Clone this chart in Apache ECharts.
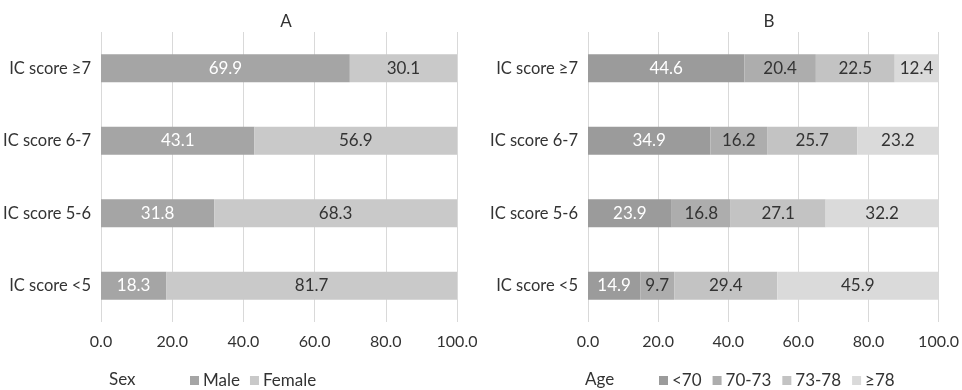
<!DOCTYPE html>
<html>
<head>
<meta charset="utf-8">
<script src="https://cdn.jsdelivr.net/npm/echarts@6/dist/echarts.min.js"></script>
<style>
  html, body { margin: 0; padding: 0; background: #fff; }
  #chart { width: 962px; height: 390px; }
</style>
</head>
<body>
<div id="chart"></div>
<script>
const categories = ['IC score <5', 'IC score 5-6', 'IC score 6-7', 'IC score ≥7']
const xTicks = [0, 20, 40, 60, 80, 100]

const male = [18.3, 31.8, 43.1, 69.9]
const female = [81.7, 68.3, 56.9, 30.1]

const ageUnder70 = [14.9, 23.9, 34.9, 44.6]
const age70to73 = [9.7, 16.8, 16.2, 20.4]
const age73to78 = [29.4, 27.1, 25.7, 22.5]
const age78plus = [45.9, 32.2, 23.2, 12.4]

const font = 'Lato, "Open Sans", sans-serif'
const textColor = '#333333'

const chart = echarts.init(document.getElementById('chart'))

const xAxisBase = {
  type: 'value',
  min: xTicks[0],
  max: xTicks[xTicks.length - 1],
  interval: xTicks[1] - xTicks[0],
  axisLine: { show: false },
  axisTick: { show: false },
  splitLine: { lineStyle: { color: '#d9d9d9' } },
  axisLabel: {
    color: textColor,
    fontFamily: font,
    fontSize: 16,
    margin: 12,
    formatter: (v) => v.toFixed(1)
  }
}

const yAxisBase = {
  type: 'category',
  data: categories,
  axisLine: { show: false },
  axisTick: { show: false },
  axisLabel: { color: textColor, fontFamily: font, fontSize: 16.5, margin: 10 }
}

const makeSeries = (name, data, idx, color, labelColor) => ({
  name,
  type: 'bar',
  stack: 'p' + idx,
  xAxisIndex: idx,
  yAxisIndex: idx,
  data,
  barWidth: 28,
  itemStyle: { color },
  label: {
    show: true,
    color: labelColor,
    fontFamily: font,
    fontSize: 17,
    formatter: (p) => p.value.toFixed(1)
  }
})

const titleStyle = { color: textColor, fontFamily: font, fontSize: 17, fontWeight: 'normal' }

const option = {
  animation: false,
  title: [
    { text: 'A', left: 281, top: 8, textAlign: 'center', textStyle: titleStyle },
    { text: 'B', left: 764, top: 8, textAlign: 'center', textStyle: titleStyle },
    { text: 'Sex', left: 104, top: 366, textStyle: titleStyle },
    { text: 'Age', left: 580, top: 366, textStyle: titleStyle }
  ],
  legend: [
    {
      data: ['Male', 'Female'],
      left: 185,
      top: 367,
      icon: 'rect',
      itemWidth: 9,
      itemHeight: 9,
      itemGap: 10,
      textStyle: { color: textColor, fontFamily: font, fontSize: 17, padding: [0, 0, 0, -1] }
    },
    {
      data: ['<70', '70-73', '73-78', '≥78'],
      left: 654,
      top: 367,
      icon: 'rect',
      itemWidth: 9,
      itemHeight: 9,
      itemGap: 11,
      textStyle: { color: textColor, fontFamily: font, fontSize: 17, padding: [0, 0, 0, -1] }
    }
  ],
  grid: [
    { left: 101, right: 505, top: 32, height: 290 },
    { left: 588, right: 22, top: 32, height: 290 }
  ],
  xAxis: [
    Object.assign({ gridIndex: 0 }, xAxisBase),
    Object.assign({ gridIndex: 1 }, xAxisBase)
  ],
  yAxis: [
    Object.assign({ gridIndex: 0 }, yAxisBase),
    Object.assign({ gridIndex: 1 }, yAxisBase)
  ],
  series: [
    makeSeries('Male', male, 0, '#a5a5a5', '#ffffff'),
    makeSeries('Female', female, 0, '#c9c9c9', textColor),
    makeSeries('<70', ageUnder70, 1, '#9b9b9b', '#ffffff'),
    makeSeries('70-73', age70to73, 1, '#adadad', textColor),
    makeSeries('73-78', age73to78, 1, '#c3c3c3', textColor),
    makeSeries('≥78', age78plus, 1, '#dadada', textColor)
  ]
}

chart.setOption(option)
</script>
</body>
</html>
